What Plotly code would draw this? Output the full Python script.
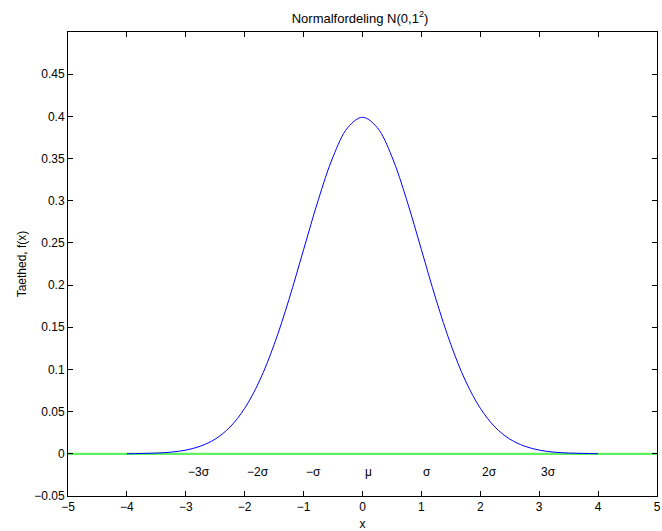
import plotly.graph_objects as go

# Density values (x from -4 to 4)
x_vals = [-4.0, -3.75, -3.5, -3.25, -3.0, -2.75, -2.5, -2.25, -2.0, -1.75, -1.5, -1.25, -1.0,
          -0.75, -0.5, -0.25, 0.0, 0.25, 0.5, 0.75, 1.0, 1.25, 1.5, 1.75, 2.0, 2.25, 2.5,
          2.75, 3.0, 3.25, 3.5, 3.75, 4.0]
f_vals = [0.0001, 0.0004, 0.0009, 0.0020, 0.0044, 0.0091, 0.0175, 0.0317, 0.0540, 0.0863,
          0.1295, 0.1826, 0.2420, 0.3011, 0.3521, 0.3867, 0.3989, 0.3867, 0.3521, 0.3011,
          0.2420, 0.1826, 0.1295, 0.0863, 0.0540, 0.0317, 0.0175, 0.0091, 0.0044, 0.0020,
          0.0009, 0.0004, 0.0001]

baseline_x = [-5, 5]
baseline_y = [0, 0]

sigma_pos = [-3, -2, -1, 0, 1, 2, 3]
sigma_labels = ["\u22123\u03c3", "\u22122\u03c3", "\u2212\u03c3", "\u03bc", "\u03c3", "2\u03c3", "3\u03c3"]
sigma_y = -0.022

x_ticks = [-5, -4, -3, -2, -1, 0, 1, 2, 3, 4, 5]
y_ticks = [-0.05, 0, 0.05, 0.1, 0.15, 0.2, 0.25, 0.3, 0.35, 0.4, 0.45]
y_ticktext = ["\u22120.05", "0", "0.05", "0.1", "0.15", "0.2", "0.25", "0.3", "0.35", "0.4", "0.45"]

FONT = "Liberation Sans, Arial, Helvetica, sans-serif"
FS = 12

fig = go.Figure()
fig.add_trace(go.Scatter(x=baseline_x, y=baseline_y, mode="lines",
                         line=dict(color="#5ff05f", width=2.2), hoverinfo="skip"))
fig.add_trace(go.Scatter(x=x_vals, y=f_vals, mode="lines", line_shape="spline",
                         line=dict(color="#0000ff", width=1)))

for px, lab in zip(sigma_pos, sigma_labels):
    fig.add_annotation(x=px, y=sigma_y, text=lab, showarrow=False, xanchor="left",
                       yanchor="middle", font=dict(family=FONT, size=FS, color="black"))

axis_common = dict(showline=True, linecolor="black", linewidth=1, mirror="ticks",
                   ticks="inside", ticklen=5, tickcolor="black", tickwidth=1,
                   showgrid=False, zeroline=False, automargin=False,
                   tickfont=dict(family=FONT, size=FS, color="black"))

fig.update_layout(
    width=662, height=531,
    margin=dict(l=68, r=5, t=32, b=35),
    paper_bgcolor="white", plot_bgcolor="white",
    showlegend=False,
    hovermode=False,
    title=dict(text="Normalfordeling N(0,1<sup>2</sup>)", x=0.5438, xanchor="center",
               y=0.966, yanchor="middle", font=dict(family=FONT, size=13, color="black")),
    xaxis=dict(range=[-5, 5], tickvals=x_ticks,
               title=dict(text="x", font=dict(family=FONT, size=FS, color="black"), standoff=6),
               **axis_common),
    yaxis=dict(range=[-0.05, 0.5], tickvals=y_ticks, ticktext=y_ticktext,
               title=dict(text="Taethed, f(x)", font=dict(family=FONT, size=FS, color="black"), standoff=5),
               **axis_common),
)

fig.write_html("out.html", config={"displayModeBar": False},
               post_script="document.body.style.margin='0';")
